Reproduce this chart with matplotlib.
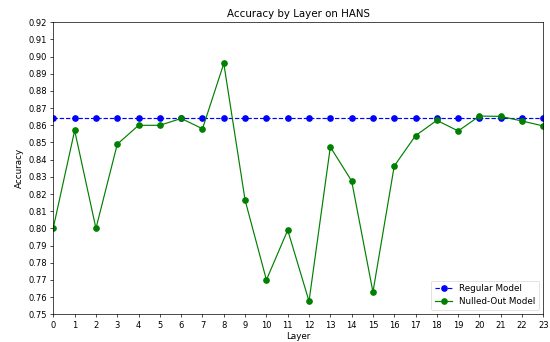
import matplotlib
matplotlib.use("Agg")
import matplotlib.pyplot as plt
import numpy as np

layers = list(range(24))
regular_acc = [0.864] * 24
nulled_acc = [0.8005, 0.857, 0.800, 0.849, 0.860, 0.860, 0.864, 0.858, 0.896, 0.8164,
              0.770, 0.799, 0.7576, 0.8474, 0.8276, 0.763, 0.8363, 0.854, 0.8629, 0.8567,
              0.8654, 0.8652, 0.8625, 0.8596]
yticks = [round(0.75 + 0.01 * i, 2) for i in range(18)]

fig = plt.figure(figsize=(5.5, 3.42), dpi=100)
ax = fig.add_axes([0.097, 0.081, 0.891, 0.854])
ax.plot(layers, regular_acc, 'b--o', label='Regular Model', linewidth=0.85, markersize=3.8)
ax.plot(layers, nulled_acc, 'g-o', label='Nulled-Out Model', linewidth=0.85, markersize=3.8)
ax.set_xlim(0, 23)
ax.set_ylim(0.75, 0.92)
ax.set_xticks(layers)
ax.set_yticks(yticks)
ax.set_yticklabels([f"{v:.2f}" for v in yticks])
ax.tick_params(labelsize=6.0, width=0.5, length=2.5, pad=2)
for s in ax.spines.values():
    s.set_linewidth(0.5)
ax.set_title('Accuracy by Layer on HANS', fontsize=7.4, pad=4)
ax.set_xlabel('Layer', fontsize=6.3, labelpad=2)
ax.set_ylabel('Accuracy', fontsize=6.3, labelpad=3)
leg = ax.legend(loc='lower right', fontsize=6.3)
leg.get_frame().set_linewidth(0.5)
fig.savefig('out.png', dpi=100)
